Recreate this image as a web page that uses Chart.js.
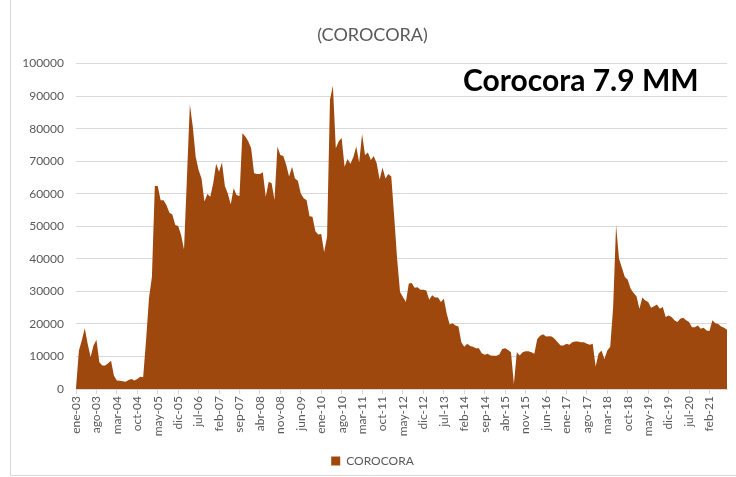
<!DOCTYPE html>
<html>
<head>
<meta charset="utf-8">
<script src="https://cdn.jsdelivr.net/npm/chart.js@4.4.1/dist/chart.umd.min.js"></script>
<style>
  html, body { margin: 0; padding: 0; background: #fff; }
  #wrap { width: 736px; height: 477px; position: relative; }
</style>
</head>
<body>
<div id="wrap"><canvas id="c" width="736" height="477"></canvas></div>
<script>
// monthly series, ene-03 .. ago-21
const seriesName = "COROCORA";
const monthNames = ["ene","feb","mar","abr","may","jun","jul","ago","sep","oct","nov","dic"];
const startYear = 3;
const corocora = [
  300, 11800, 15000, 18700, 13900, 9800, 13400, 15100, 8200, 7200, 7200, 7900,
  8700, 4100, 2600, 2500, 2400, 2200, 2800, 3100, 2600, 3100, 3800, 3600,
  15000, 28000, 34400, 62400, 62400, 58000, 58000, 56500, 54200, 53600, 50400, 50100,
  47300, 42900, 65000, 87400, 80700, 71400, 67300, 64700, 57600, 59900, 59100, 63200,
  69200, 66800, 69600, 62400, 60100, 56800, 61700, 59600, 59300, 78600, 77600, 76100,
  74000, 66300, 66100, 66100, 66600, 59100, 63700, 63200, 58100, 74500, 71900, 71600,
  68900, 65300, 68300, 64700, 64000, 60100, 58600, 58000, 53100, 52900, 48500, 47500,
  47600, 42100, 46800, 88900, 93200, 74000, 76100, 77100, 68300, 70700, 69200, 71200,
  74500, 69600, 78400, 71900, 72700, 70400, 71600, 69400, 64400, 68100, 64700, 66100,
  65300, 53000, 40000, 29800, 28300, 26700, 32400, 32600, 31100, 31300, 30500, 30500,
  30300, 27400, 28800, 28100, 28100, 26700, 27700, 23100, 19800, 20200, 19500, 19200,
  14400, 13000, 13900, 13200, 13000, 12500, 12500, 11000, 10500, 10800, 10300, 10200,
  10200, 10600, 12300, 12500, 12000, 11300, 1500, 11300, 10300, 11300, 11600, 11600,
  11300, 10800, 15400, 16400, 16800, 16100, 16200, 16100, 15400, 14400, 13400, 13400,
  13900, 13600, 14400, 14600, 14600, 14400, 14400, 13900, 13600, 13900, 6900, 10800,
  11800, 9200, 11800, 13000, 25200, 50400, 40100, 37300, 34400, 33600, 30800, 29500,
  28500, 24700, 28100, 27200, 26700, 25000, 25400, 26000, 24700, 25200, 22100, 22600,
  22100, 21100, 20600, 21600, 21900, 21100, 20600, 19000, 19000, 19500, 18500, 18800,
  18000, 17800, 21100, 20200, 20000, 19200, 18800, 18200
];
const yTicks = [0, 10000, 20000, 30000, 40000, 50000, 60000, 70000, 80000, 90000, 100000];

const labels = corocora.map((v, i) =>
  monthNames[i % 12] + "-" + String(startYear + Math.floor(i / 12)).padStart(2, "0"));

const FONT = "Lato, 'Open Sans', sans-serif";
const GREY = "#595959";
const GRID = "#d9d9d9";

const frame = {
  id: "frame",
  beforeDraw(chart) {
    const c = chart.ctx;
    c.save();
    c.fillStyle = "#fff";
    c.fillRect(0, 0, chart.width, chart.height);
    c.strokeStyle = GRID;
    c.lineWidth = 1;
    c.beginPath();
    c.moveTo(10.5, 0);
    c.lineTo(10.5, 475.5);
    c.lineTo(chart.width, 475.5);
    c.stroke();
    c.restore();
  },
  afterDraw(chart) {
    const c = chart.ctx;
    c.save();
    c.font = "bold 30px " + FONT;
    c.fillStyle = "#000";
    c.textBaseline = "middle";
    c.fillText("Corocora 7.9 MM", 463, 81);
    c.restore();
  }
};

new Chart(document.getElementById("c"), {
  type: "line",
  data: {
    labels: labels,
    datasets: [{
      label: seriesName,
      data: corocora,
      fill: "origin",
      backgroundColor: "#9E480E",
      borderColor: "#9E480E",
      borderWidth: 0,
      pointRadius: 0,
      tension: 0
    }]
  },
  options: {
    responsive: false,
    animation: false,
    layout: { padding: { left: 18, right: 9, top: 24, bottom: 0 } },
    plugins: {
      title: {
        display: true,
        text: "(COROCORA)",
        color: GREY,
        font: { family: FONT, size: 18, weight: "normal" },
        padding: { top: 0, bottom: 18 }
      },
      legend: {
        position: "bottom",
        labels: {
          color: GREY,
          font: { family: FONT, size: 12 },
          boxWidth: 9,
          boxHeight: 9,
          padding: 6
        }
      },
      tooltip: { enabled: false }
    },
    scales: {
      x: {
        offset: false,
        afterFit: s => { s.height = 60; },
        grid: { drawOnChartArea: false, drawTicks: true, tickLength: 5, color: GRID },
        border: { color: GRID },
        ticks: {
          autoSkip: false,
          minRotation: 90,
          maxRotation: 90,
          padding: 2,
          color: GREY,
          font: { family: FONT, size: 12 },
          callback: (v, i) => (i % 7 === 0 ? labels[i] : null)
        }
      },
      y: {
        min: 0,
        max: 100000,
        afterFit: s => { s.width = 58; },
        afterBuildTicks: s => { s.ticks = yTicks.map(v => ({ value: v })); },
        grid: { color: GRID, drawTicks: false },
        border: { display: false },
        ticks: {
          padding: 12,
          color: GREY,
          font: { family: FONT, size: 12 },
          callback: v => String(v)
        }
      }
    }
  },
  plugins: [frame]
});
</script>
</body>
</html>
